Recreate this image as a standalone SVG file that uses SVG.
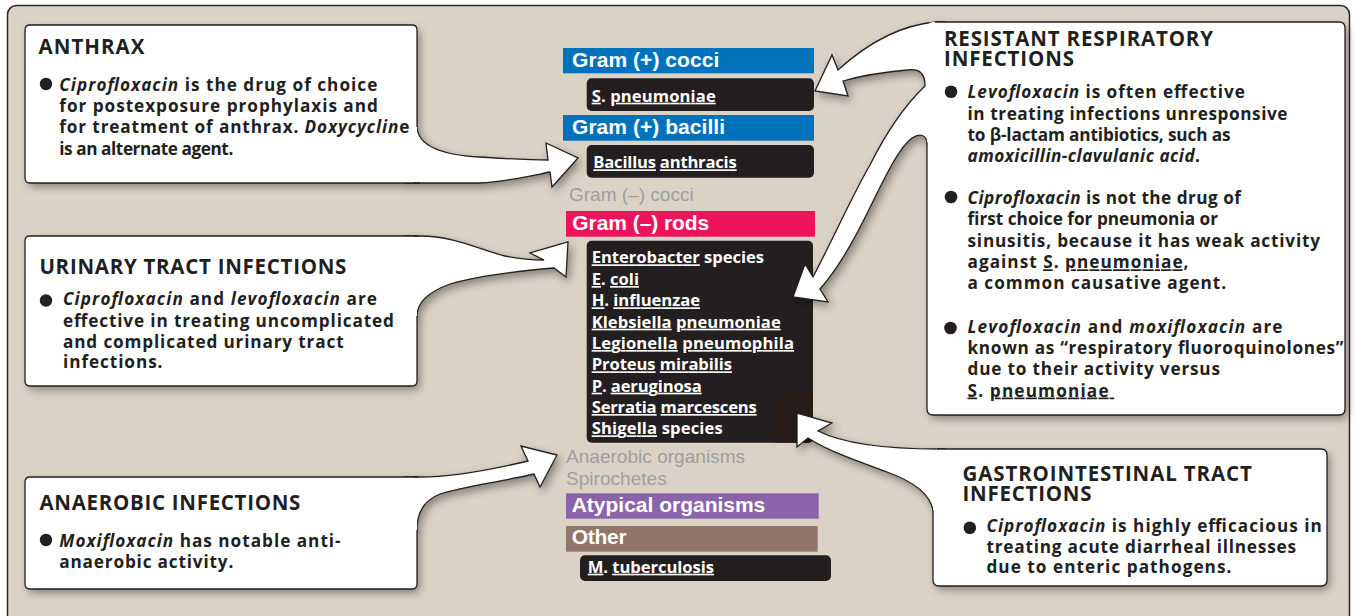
<svg xmlns="http://www.w3.org/2000/svg" xmlns:xlink="http://www.w3.org/1999/xlink" width="1355" height="616" viewBox="0 0 1355 616">
<style>
.t{font-family:'Open Sans','Noto Sans','Liberation Sans',sans-serif;font-weight:700;fill:#231f20}
.ti{font-size:20.5px}
.b{font-size:17.2px}
.i{font-style:italic}
.bar{font-family:'Liberation Sans',Arial,sans-serif;font-weight:700;font-size:21px;fill:#fff}
.gr{font-family:'Liberation Sans',Arial,sans-serif;font-size:19px;fill:#9d9fa2}
.sp{font-family:'Open Sans','Noto Sans',sans-serif;font-weight:700;font-size:16.6px;fill:#fff}
.u{text-decoration:underline}
.tail{fill:#fff;stroke:#231f20;stroke-width:1.3;stroke-linejoin:miter}
.bf{fill:#fff}
.bo{fill:none;stroke:#231f20;stroke-width:1.3}
.dk{fill:#231f20}
.dot{fill:#231f20}
</style>
<defs>
<filter id="sh" x="-10%" y="-10%" width="130%" height="140%">
<feGaussianBlur in="SourceAlpha" stdDeviation="4"/>
<feOffset dx="3" dy="4" result="o"/>
<feFlood flood-color="#000" flood-opacity="0.38"/>
<feComposite in2="o" operator="in"/>
</filter>
</defs>
<rect id="panel" x="7.5" y="5.5" width="1342" height="650" rx="9" fill="#dad2c5" stroke="#2b2828" stroke-width="1.5"/>

<g id="center-column">
<g id="gram-pos-cocci">
<rect x="563" y="48" width="251" height="25.3" fill="#0072bc"/>
<text class="bar" x="572" y="67.3" textLength="147.3">Gram (+) cocci</text>
</g>
<g id="s-pneumoniae">
<rect class="dk" x="586.7" y="78.3" width="227.3" height="32.7" rx="5"/>
<text class="sp" x="591.7" y="101.7" textLength="124"><tspan class="u">S</tspan>. <tspan class="u">pneumoniae</tspan></text>
</g>
<g id="gram-pos-bacilli">
<rect x="563" y="115" width="251" height="25.7" fill="#0072bc"/>
<text class="bar" x="572" y="134" textLength="153">Gram (+) bacilli</text>
</g>
<g id="bacillus-anthracis">
<rect class="dk" x="586.7" y="145" width="227.3" height="32.7" rx="5"/>
<text class="sp" x="593.3" y="168.3" textLength="143.4"><tspan class="u">Bacillus</tspan> <tspan class="u">anthracis</tspan></text>
</g>
<g id="gram-neg-cocci">
<text class="gr" x="569" y="200.5" textLength="124.7">Gram (–) cocci</text>
</g>
<g id="gram-neg-rods">
<rect x="566" y="211" width="249" height="25.7" fill="#ed145b"/>
<text class="bar" x="572.3" y="230" textLength="137">Gram (–) rods</text>
</g>
<g id="gram-neg-species">
<rect class="dk" x="586.7" y="240.7" width="226.3" height="202" rx="5"/>
<path d="M775,392 H813 V437.7 Q813,442.7 808,442.7 H775 Z" fill="#271c1a"/>
<text class="sp" x="591.7" y="263.3" textLength="172.3"><tspan class="u">Enterobacter</tspan> species</text>
<text class="sp" x="591.7" y="285" textLength="47.3"><tspan class="u">E</tspan>. <tspan class="u">coli</tspan></text>
<text class="sp" x="591.7" y="306.3" textLength="108.3"><tspan class="u">H</tspan>. <tspan class="u">influenzae</tspan></text>
<text class="sp" x="591.7" y="327.7" textLength="189"><tspan class="u">Klebsiella</tspan> <tspan class="u">pneumoniae</tspan></text>
<text class="sp" x="591.7" y="349" textLength="202.3"><tspan class="u">Legionella</tspan> <tspan class="u">pneumophila</tspan></text>
<text class="sp" x="591.7" y="370.3" textLength="140.3"><tspan class="u">Proteus</tspan> <tspan class="u">mirabilis</tspan></text>
<text class="sp" x="591.7" y="391.7" textLength="110"><tspan class="u">P</tspan>. <tspan class="u">aeruginosa</tspan></text>
<text class="sp" x="591.7" y="413" textLength="165"><tspan class="u">Serratia</tspan> <tspan class="u">marcescens</tspan></text>
<text class="sp" x="591.7" y="434.3" textLength="131"><tspan class="u">Shigella</tspan> species</text>
</g>
<g id="anaerobic-organisms">
<text class="gr" x="566" y="462.7" textLength="179">Anaerobic organisms</text>
</g>
<g id="spirochetes">
<text class="gr" x="566" y="485" textLength="100.7">Spirochetes</text>
</g>
<g id="atypical-organisms">
<rect x="566" y="493.3" width="252.7" height="25.4" fill="#8b63ab"/>
<text class="bar" x="571.7" y="512.3" textLength="193.6">Atypical organisms</text>
</g>
<g id="other">
<rect x="566" y="526" width="251.7" height="25.7" fill="#927569"/>
<text class="bar" x="571.7" y="544.3" textLength="55">Other</text>
</g>
<g id="m-tuberculosis">
<rect class="dk" x="580" y="555.3" width="251" height="25.7" rx="5"/>
<text class="sp" x="587.7" y="572.7" textLength="126.3"><tspan class="u">M</tspan>. <tspan class="u">tuberculosis</tspan></text>
</g>
</g>

<g id="shadows" filter="url(#sh)">
<use xlink:href="#tail-anthrax"/><use xlink:href="#fill-anthrax"/>
<use xlink:href="#tail-urinary"/><use xlink:href="#fill-urinary"/>
<use xlink:href="#tail-anaerobic"/><use xlink:href="#fill-anaerobic"/>
<use xlink:href="#tail-respiratory"/><use xlink:href="#fill-respiratory"/>
<use xlink:href="#tail-gi"/><use xlink:href="#fill-gi"/>
</g>

<g id="connectors">
<path id="tail-anthrax" class="tail" d="M417,127 C418,145 440,155 480,157 C510,159 535,160 548,160 L546,143 L578,158 L552,187 L550,172 C530,176 505,182 480,183 H405 V127 Z"/>
<path id="tail-urinary" class="tail" d="M405,236 H420 C455,236 480,250 505,256 C520,259 532,260 544,260 L530,253 L568,242 L566,277 L554,268 C530,270 480,275 450,284 C428,292 417,303 417,316 L405,316 Z"/>
<path id="tail-anaerobic" class="tail" d="M405,477 H420 C450,477 490,470 528,461 L521,446 L557,455 L540,487 L534,474 C505,481 460,487 440,494 C424,500 417,512 417,530 L405,530 Z"/>
<path id="tail-respiratory" class="tail" d="M945,22 H937 C895,25 860,50 838,70 L832,55 L815,91 L848,96 L843,81 C860,76 885,72 907,70 C920,68 925,74 925,86 C905,105 885,135 870,165 C855,190 830,245 813,277 L805,264 L793,297 L828,302 L820,289 C835,272 848,250 857,233 C875,200 895,150 912,138 C920,133 926,135 927,142 L945,142 Z"/>
<path id="tail-gi" class="tail" d="M945,449 H939 C880,449 840,442 818,431 L832,423 L797,413 L797,447 L808,438 C830,452 860,462 887,472 C915,482 930,495 933,510 L945,510 Z"/>
</g>

<g id="anthrax">
<rect id="fill-anthrax" class="bf" x="25" y="25" width="392" height="158" rx="5"/>
<path class="bo" d="M417,127 V30 Q417,25 412,25 H30 Q25,25 25,30 V178 Q25,183 30,183 H420"/>
<text class="t ti" x="38.5" y="54" textLength="106">ANTHRAX</text>
<circle class="dot" cx="46" cy="84" r="6.2"/>
<text class="t b" x="59.3" y="90.7" textLength="318"><tspan class="i">Ciprofloxacin</tspan> is the drug of choice</text>
<text class="t b" x="59.3" y="112" textLength="318.5">for postexposure prophylaxis and</text>
<text class="t b" x="59.3" y="133.3" textLength="350">for treatment of anthrax. <tspan class="i">Doxycyclin</tspan>e</text>
<text class="t b" x="59.3" y="155" textLength="174">is an alternate agent.</text>
</g>

<g id="urinary-tract-infections">
<rect id="fill-urinary" class="bf" x="25" y="236" width="392" height="150" rx="5"/>
<path class="bo" d="M417,316 V381 Q417,386 412,386 H30 Q25,386 25,381 V241 Q25,236 30,236 H418"/>
<text class="t ti" x="39.4" y="274" textLength="307">URINARY TRACT INFECTIONS</text>
<circle class="dot" cx="46" cy="300.5" r="6.2"/>
<text class="t b" x="63" y="305" textLength="314"><tspan class="i">Ciprofloxacin</tspan> and <tspan class="i">levofloxacin</tspan> are</text>
<text class="t b" x="63" y="326.7" textLength="331">effective in treating uncomplicated</text>
<text class="t b" x="63" y="347.7" textLength="280.6">and complicated urinary tract</text>
<text class="t b" x="63" y="368.3" textLength="99.5">infections.</text>
</g>

<g id="anaerobic-infections">
<rect id="fill-anaerobic" class="bf" x="25" y="477" width="392" height="112" rx="5"/>
<path class="bo" d="M417,530 V584 Q417,589 412,589 H30 Q25,589 25,584 V482 Q25,477 30,477 H418"/>
<text class="t ti" x="39.4" y="510" textLength="261">ANAEROBIC INFECTIONS</text>
<circle class="dot" cx="46" cy="540" r="6.2"/>
<text class="t b" x="59.3" y="546.7" textLength="281.3"><tspan class="i">Moxifloxacin</tspan> has notable anti-</text>
<text class="t b" x="59.3" y="568.3" textLength="174">anaerobic activity.</text>
</g>

<g id="resistant-respiratory-infections">
<rect id="fill-respiratory" class="bf" x="927" y="22" width="418" height="393" rx="6"/>
<path class="bo" d="M927,142 V409 Q927,415 933,415 H1339 Q1345,415 1345,409 V28 Q1345,22 1339,22 H935"/>
<text class="t ti" x="944" y="46" textLength="269">RESISTANT RESPIRATORY</text>
<text class="t ti" x="944" y="66" textLength="130">INFECTIONS</text>
<circle class="dot" cx="951" cy="91.7" r="6.3"/>
<text class="t b" x="967.5" y="98.3" textLength="277.3"><tspan class="i">Levofloxacin</tspan> is often effective</text>
<text class="t b" x="967.5" y="119.6" textLength="320">in treating infections unresponsive</text>
<text class="t b" x="967.5" y="140.6" textLength="263">to β-lactam antibiotics, such as</text>
<text class="t b" x="967.5" y="162" textLength="232.5"><tspan class="i">amoxicillin-clavulanic acid</tspan>.</text>
<circle class="dot" cx="951" cy="197" r="6.3"/>
<text class="t b" x="967.5" y="204" textLength="273.5"><tspan class="i">Ciprofloxacin</tspan> is not the drug of</text>
<text class="t b" x="967.5" y="225.3" textLength="250.5">first choice for pneumonia or</text>
<text class="t b" x="967.5" y="246.7" textLength="352.5">sinusitis, because it has weak activity</text>
<text class="t b" x="967.5" y="268.3" textLength="221">against <tspan class="u">S</tspan>. <tspan class="u">pneumoniae</tspan>,</text>
<text class="t b" x="967.5" y="289.3" textLength="258.7">a common causative agent.</text>
<circle class="dot" cx="950.5" cy="328" r="6.3"/>
<text class="t b" x="967.5" y="332.7" textLength="315"><tspan class="i">Levofloxacin</tspan> and <tspan class="i">moxifloxacin</tspan> are</text>
<text class="t b" x="967.5" y="353.8" textLength="376">known as “respiratory fluoroquinolones”</text>
<text class="t b" x="967.5" y="375" textLength="252.5">due to their activity versus</text>
<text class="t b" x="967.5" y="396.5" textLength="146.7"><tspan class="u">S</tspan>. <tspan class="u">pneumoniae&#160;</tspan></text>
</g>

<g id="gastrointestinal-tract-infections">
<rect id="fill-gi" class="bf" x="933" y="449" width="394" height="137" rx="6"/>
<path class="bo" d="M933,510 V580 Q933,586 939,586 H1321 Q1327,586 1327,580 V455 Q1327,449 1321,449 H937"/>
<text class="t ti" x="962.5" y="480.5" textLength="289.3">GASTROINTESTINAL TRACT</text>
<text class="t ti" x="962.5" y="501" textLength="129">INFECTIONS</text>
<circle class="dot" cx="969.8" cy="527.7" r="6.3"/>
<text class="t b" x="986.4" y="531.7" textLength="335.4"><tspan class="i">Ciprofloxacin</tspan> is highly efficacious in</text>
<text class="t b" x="986.4" y="552.7" textLength="309.6">treating acute diarrheal illnesses</text>
<text class="t b" x="986.4" y="573.3" textLength="245">due to enteric pathogens.</text>
</g>
</svg>
